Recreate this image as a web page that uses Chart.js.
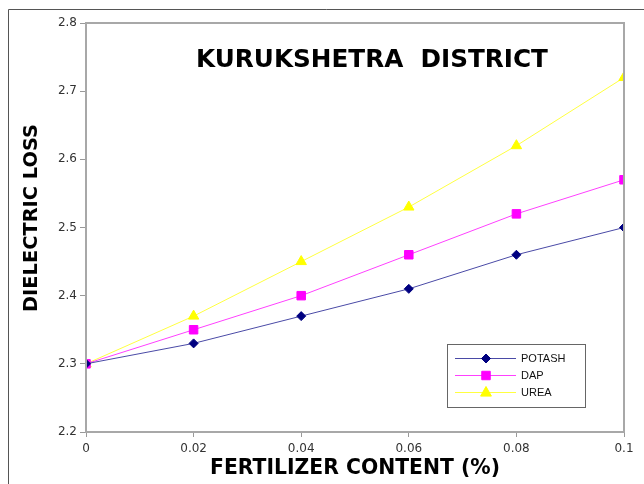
<!DOCTYPE html>
<html>
<head>
<meta charset="utf-8">
<script src="https://cdn.jsdelivr.net/npm/chart.js@4"></script>
<style>
  html, body { margin: 0; padding: 0; background: #fff; }
  #wrap { width: 644px; height: 484px; position: relative; }
</style>
</head>
<body>
<div id="wrap"><canvas id="c" width="644" height="484"></canvas></div>
<script>
// Fertilizer content (%) on the x axis
const fertilizerContent = [0, 0.02, 0.04, 0.06, 0.08, 0.1];
// Dielectric loss for each fertilizer
const potash = [2.30, 2.33, 2.37, 2.41, 2.46, 2.50];
const dap    = [2.30, 2.35, 2.40, 2.46, 2.52, 2.57];
const urea   = [2.30, 2.37, 2.45, 2.53, 2.62, 2.72];
const seriesNames = ['POTASH', 'DAP', 'UREA'];
const xTicks = [0, 0.02, 0.04, 0.06, 0.08, 0.1];
const yTicks = [2.2, 2.3, 2.4, 2.5, 2.6, 2.7, 2.8];

const chartTitle = 'KURUKSHETRA  DISTRICT';
const xTitle = 'FERTILIZER CONTENT (%)';
const yTitle = 'DIELECTRIC LOSS';

const toPoints = (ys) => fertilizerContent.map((x, i) => ({ x, y: ys[i] }));

// fit bold text into a given width
function fitFont(ctx, text, width, family) {
  let size = 20;
  ctx.font = 'bold ' + size + 'px ' + family;
  const w = ctx.measureText(text).width;
  size = size * width / w;
  return 'bold ' + size.toFixed(2) + 'px ' + family;
}

function drawMarker(ctx, style, x, y, r) {
  if (style === 'rectRot') {
    ctx.moveTo(x, y - r); ctx.lineTo(x + r, y); ctx.lineTo(x, y + r); ctx.lineTo(x - r, y); ctx.closePath();
  } else if (style === 'rect') {
    const s = r * Math.SQRT1_2;
    ctx.rect(x - s, y - s, 2 * s, 2 * s);
  } else {
    const half = r * 0.9;
    ctx.moveTo(x, y - r); ctx.lineTo(x + half, y + r * 0.6); ctx.lineTo(x - half, y + r * 0.6); ctx.closePath();
  }
}

const decorations = {
  id: 'decorations',
  afterDraw(chart) {
    const ctx = chart.ctx;
    const area = chart.chartArea;
    ctx.save();

    // outer frame
    ctx.strokeStyle = '#555';
    ctx.lineWidth = 1;
    ctx.beginPath();
    ctx.moveTo(8.5, 484);
    ctx.lineTo(8.5, 9.5);
    ctx.lineTo(644, 9.5);
    ctx.stroke();

    // plot frame
    ctx.strokeStyle = '#a8a8a8';
    ctx.lineWidth = 2;
    ctx.strokeRect(area.left, area.top, area.right - area.left, area.bottom - area.top);

    const fam = '"DejaVu Sans", Verdana, sans-serif';
    ctx.fillStyle = '#000';
    ctx.textBaseline = 'middle';
    ctx.textAlign = 'center';

    // chart title
    ctx.font = fitFont(ctx, chartTitle, 352, fam);
    ctx.fillText(chartTitle, 372, 61);

    // x axis title
    ctx.font = fitFont(ctx, xTitle, 290, fam);
    ctx.fillText(xTitle, 355, 469);

    // y axis title
    ctx.save();
    ctx.translate(32, 218);
    ctx.rotate(-Math.PI / 2);
    ctx.font = fitFont(ctx, yTitle, 188, fam);
    ctx.fillText(yTitle, 0, 0);
    ctx.restore();

    // legend box
    const lx = 447, ly = 344, lw = 138, lh = 63;
    ctx.fillStyle = '#fff';
    ctx.fillRect(lx, ly, lw, lh);
    ctx.strokeStyle = '#666';
    ctx.lineWidth = 1;
    ctx.strokeRect(lx + 0.5, ly + 0.5, lw, lh);
    const rows = [358, 375, 392];
    chart.data.datasets.forEach((ds, i) => {
      const y = rows[i];
      ctx.strokeStyle = ds.borderColor;
      ctx.lineWidth = 1;
      ctx.beginPath();
      ctx.moveTo(455, y + 0.5);
      ctx.lineTo(516, y + 0.5);
      ctx.stroke();
      ctx.fillStyle = ds.pointBackgroundColor;
      ctx.strokeStyle = ds.pointBorderColor;
      ctx.beginPath();
      drawMarker(ctx, ds.pointStyle, 486, y + 0.5, ds.pointRadius);
      ctx.fill();
      ctx.stroke();
      ctx.fillStyle = '#111';
      ctx.textAlign = 'left';
      ctx.font = '11px "Liberation Sans", Arial, sans-serif';
      ctx.fillText(ds.label, 521, y + 1);
    });
    ctx.restore();
  }
};

new Chart(document.getElementById('c'), {
  type: 'line',
  data: {
    datasets: [
      {
        label: seriesNames[0], data: toPoints(potash),
        borderColor: '#4a4aa6', borderWidth: 1,
        pointStyle: 'rectRot', pointRadius: 4.5,
        pointBackgroundColor: '#000080', pointBorderColor: '#000080', pointBorderWidth: 1
      },
      {
        label: seriesNames[1], data: toPoints(dap),
        borderColor: '#ff40ff', borderWidth: 1,
        pointStyle: 'rect', pointRadius: 6,
        pointBackgroundColor: '#ff00ff', pointBorderColor: '#ff00ff', pointBorderWidth: 1
      },
      {
        label: seriesNames[2], data: toPoints(urea),
        borderColor: '#ffff40', borderWidth: 1,
        pointStyle: 'triangle', pointRadius: 6,
        pointBackgroundColor: '#ffff00', pointBorderColor: '#ffff00', pointBorderWidth: 1
      }
    ]
  },
  options: {
    responsive: false,
    animation: false,
    devicePixelRatio: 1,
    layout: { padding: { top: 23, right: 20, left: 0, bottom: 0 } },
    plugins: { legend: { display: false }, tooltip: { enabled: false }, title: { display: false } },
    elements: { line: { tension: 0 } },
    scales: {
      x: {
        type: 'linear', min: 0, max: 0.1,
        afterBuildTicks: (s) => { s.ticks = xTicks.map(v => ({ value: v })); },
        afterFit: (s) => { s.height = 52; },
        border: { display: false },
        grid: { drawOnChartArea: false, color: '#999', tickLength: 5, lineWidth: 1 },
        ticks: {
          color: '#333', padding: 5, maxRotation: 0,
          font: { family: '"DejaVu Sans", Verdana, sans-serif', size: 12 },
          callback: (v) => String(Number(v.toFixed(2)))
        }
      },
      y: {
        min: 2.2, max: 2.8,
        afterBuildTicks: (s) => { s.ticks = yTicks.map(v => ({ value: v })); },
        afterFit: (s) => { s.width = 86; },
        border: { display: false },
        grid: { drawOnChartArea: false, color: '#999', tickLength: 6, lineWidth: 1 },
        ticks: {
          color: '#333', padding: 3,
          font: { family: '"DejaVu Sans", Verdana, sans-serif', size: 12 },
          callback: (v) => v.toFixed(1)
        }
      }
    }
  },
  plugins: [decorations]
});
</script>
</body>
</html>
